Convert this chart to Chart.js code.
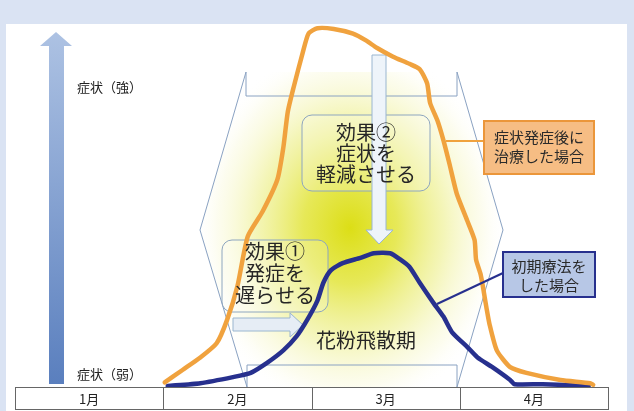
<!DOCTYPE html>
<html lang="ja">
<head>
<meta charset="utf-8">
<script src="https://cdn.jsdelivr.net/npm/chart.js@4"></script>
<style>
  html, body { margin: 0; padding: 0; background: #dae3f3; }
  #wrap { width: 634px; height: 411px; }
</style>
</head>
<body>
<div id="wrap"><canvas id="c" width="634" height="411"></canvas></div>
<script>
'use strict';

// ── Data ─────────────────────────────────────────────
const MONTHS = ['1月', '2月', '3月', '4月'];

// 症状発症後に治療した場合 (x: months from Jan 1, y: symptom level)
const LATE_X = [1.01, 1.13, 1.25, 1.36, 1.43, 1.50, 1.57, 1.67, 1.77, 1.81, 1.84, 1.88, 1.94, 1.98, 2.04, 2.15, 2.28,
                2.37, 2.44, 2.55, 2.66, 2.73, 2.78, 2.80, 2.85, 2.89, 2.93, 2.98, 3.05, 3.10, 3.11, 3.14, 3.16, 3.18,
                3.20, 3.25, 3.34, 3.45, 3.68, 3.88, 3.90];
const LATE_Y = [1, 4.5, 8, 12, 18.5, 28, 42, 49, 58, 67, 77, 84, 93.5, 99, 100.5, 100.3, 99,
                97, 95, 92.5, 90.5, 89, 85, 79.5, 74.5, 69, 62.5, 54, 46.5, 41, 35.5, 31.5, 27, 22,
                17.5, 10, 5.3, 3.7, 1.7, 0.8, 0.3];

// 初期療法をした場合
const EARLY_X = [1.03, 1.25, 1.47, 1.59, 1.70, 1.81, 1.90, 1.97, 2.04, 2.08, 2.13, 2.21, 2.33, 2.42, 2.53, 2.60,
                 2.66, 2.73, 2.82, 2.89, 2.95, 3.05, 3.12, 3.22, 3.34, 3.37, 3.56, 3.87];
const EARLY_Y = [0, 0.8, 2.5, 3.7, 6.5, 10, 14, 18.5, 24, 29, 32.5, 34.5, 36, 37.3, 37.3, 35.5,
                 33.5, 29, 23.5, 19.5, 15, 11, 8, 5.3, 1.7, 0.5, 0.5, 0];

const LATE_LABEL  = ['症状発症後に', '治療した場合'];
const EARLY_LABEL = ['初期療法を', 'した場合'];
const EFFECT1 = ['効果①', '発症を', '遅らせる'];
const EFFECT2 = ['効果②', '症状を', '軽減させる'];
const SEASON  = '花粉飛散期';
const AXIS_TOP = '症状（強）';
const AXIS_BOTTOM = '症状（弱）';

const FONT = "'Noto Sans CJK JP', 'Noto Sans', sans-serif";
const ORANGE = '#f0a23e';
const NAVY = '#27308e';

const toPoints = (xs, ys) => xs.map((x, i) => ({ x, y: ys[i] }));

// ── Drawing helpers ──────────────────────────────────
const poly = (ctx, pts) => {
    ctx.beginPath();
    ctx.moveTo(pts[0][0], pts[0][1]);
    pts.slice(1).forEach(p => ctx.lineTo(p[0], p[1]));
};

const lines = (ctx, arr, cx, y0, step) => {
    arr.forEach((t, i) => ctx.fillText(t, cx, y0 + i * step));
};

// hexagon marking the pollen season
const HEX = [[246, 72], [200, 230], [247, 387], [247, 365], [457, 365], [457, 387],
             [503, 230], [457, 72], [457, 96], [246, 96]];

const diagram = {
    id: 'diagram',
    beforeDraw(chart) {
        const ctx = chart.ctx;
        ctx.save();
        ctx.fillStyle = '#dae3f3';
        ctx.fillRect(0, 0, 634, 411);
        ctx.fillStyle = '#ffffff';
        ctx.fillRect(6, 24, 621, 387);

        // yellow glow clipped to hexagon
        ctx.save();
        poly(ctx, [[246, 72], [200, 230], [247, 387], [457, 387], [503, 230], [457, 72]]);
        ctx.closePath();
        ctx.clip();
        ctx.translate(350, 228);
        ctx.scale(0.92, 1.1);
        const g = ctx.createRadialGradient(0, 0, 0, 0, 0, 170);
        g.addColorStop(0, 'rgba(220,222,22,1)');
        g.addColorStop(0.3, 'rgba(228,230,70,0.9)');
        g.addColorStop(0.6, 'rgba(238,240,145,0.65)');
        g.addColorStop(0.85, 'rgba(248,248,210,0.35)');
        g.addColorStop(1, 'rgba(255,255,255,0)');
        ctx.fillStyle = g;
        ctx.fillRect(-260, -260, 520, 520);
        ctx.restore();

        // hexagon outline
        ctx.strokeStyle = '#8aa2c2';
        ctx.lineWidth = 1;
        poly(ctx, HEX);
        ctx.closePath();
        ctx.stroke();

        // left gradient arrow
        const ag = ctx.createLinearGradient(0, 32, 0, 384);
        ag.addColorStop(0, '#adc2e3');
        ag.addColorStop(1, '#5a7fbe');
        ctx.fillStyle = ag;
        poly(ctx, [[56, 32], [72, 46], [64, 46], [64, 384], [49, 384], [49, 46], [40, 46]]);
        ctx.closePath();
        ctx.fill();

        ctx.fillStyle = '#222';
        ctx.font = '13px ' + FONT;
        ctx.textAlign = 'left';
        ctx.textBaseline = 'middle';
        ctx.fillText(AXIS_TOP, 77, 87);
        ctx.fillText(AXIS_BOTTOM, 77, 374);

        // effect boxes
        ctx.strokeStyle = '#8ea6bf';
        ctx.fillStyle = 'rgba(255,255,255,0.22)';
        ctx.beginPath();
        ctx.roundRect(302, 115, 128, 76, 10);
        ctx.fill();
        ctx.stroke();
        ctx.beginPath();
        ctx.roundRect(222, 240, 106, 72, 10);
        ctx.fill();
        ctx.stroke();

        // down arrow
        ctx.fillStyle = '#eef4fa';
        ctx.strokeStyle = '#9ab6d0';
        poly(ctx, [[372, 55], [386, 55], [386, 230], [393, 230], [379, 244], [366, 230], [372, 230]]);
        ctx.closePath();
        ctx.fill();
        ctx.stroke();

        // right arrow
        ctx.fillStyle = '#e6edf5';
        poly(ctx, [[233, 318], [290, 318], [290, 313], [303, 325], [290, 337], [290, 331], [233, 331]]);
        ctx.closePath();
        ctx.fill();
        ctx.stroke();
        ctx.restore();
    },
    afterDatasetsDraw(chart) {
        const ctx = chart.ctx;
        const xs = chart.scales.x;
        ctx.save();
        ctx.fillStyle = '#262626';
        ctx.textAlign = 'center';
        ctx.textBaseline = 'middle';
        ctx.font = '20px ' + FONT;
        lines(ctx, EFFECT2, 366, 132, 21);
        lines(ctx, EFFECT1, 275, 251, 22);
        ctx.fillText(SEASON, 366, 340);

        // orange callout
        ctx.strokeStyle = ORANGE;
        ctx.lineWidth = 2;
        ctx.beginPath();
        ctx.moveTo(446, 141);
        ctx.lineTo(484, 141);
        ctx.stroke();
        ctx.fillStyle = '#f6bd84';
        ctx.fillRect(484, 121, 110, 53);
        ctx.strokeStyle = '#eb963a';
        ctx.strokeRect(484, 121, 110, 53);
        ctx.fillStyle = '#2a2a2a';
        ctx.font = '15px ' + FONT;
        lines(ctx, LATE_LABEL, 539, 137, 19);

        // navy callout
        ctx.strokeStyle = NAVY;
        ctx.lineWidth = 2;
        ctx.beginPath();
        ctx.moveTo(437, 304);
        ctx.lineTo(503, 273);
        ctx.stroke();
        ctx.fillStyle = '#b7c7e6';
        ctx.fillRect(503, 252, 92, 45);
        ctx.strokeRect(503, 252, 92, 45);
        ctx.fillStyle = '#2a2a2a';
        lines(ctx, EARLY_LABEL, 549, 266, 19);

        // month row
        const top = 387, bot = 409;
        ctx.fillStyle = '#ffffff';
        ctx.fillRect(xs.getPixelForValue(0), top, xs.getPixelForValue(MONTHS.length) - xs.getPixelForValue(0), bot - top);
        ctx.strokeStyle = '#666';
        ctx.lineWidth = 1;
        ctx.strokeRect(Math.round(xs.getPixelForValue(0)) + 0.5, top + 0.5,
            Math.round(xs.getPixelForValue(MONTHS.length) - xs.getPixelForValue(0)), bot - top);
        ctx.fillStyle = '#222';
        ctx.font = '13px ' + FONT;
        MONTHS.forEach((m, i) => {
            if (i > 0) {
                const px = Math.round(xs.getPixelForValue(i)) + 0.5;
                ctx.beginPath();
                ctx.moveTo(px, top);
                ctx.lineTo(px, bot);
                ctx.stroke();
            }
            ctx.fillText(m, xs.getPixelForValue(i + 0.5), (top + bot) / 2 + 1);
        });
        ctx.restore();
    }
};

new Chart(document.getElementById('c'), {
    type: 'line',
    data: {
        datasets: [
            {
                label: LATE_LABEL.join(''),
                data: toPoints(LATE_X, LATE_Y),
                borderColor: ORANGE,
                borderWidth: 4.5,
                pointRadius: 0,
                tension: 0.2,
                borderCapStyle: 'round',
                borderJoinStyle: 'round',
                clip: false
            },
            {
                label: EARLY_LABEL.join(''),
                data: toPoints(EARLY_X, EARLY_Y),
                borderColor: NAVY,
                borderWidth: 4.5,
                pointRadius: 0,
                tension: 0.2,
                borderCapStyle: 'round',
                borderJoinStyle: 'round',
                clip: false
            }
        ]
    },
    options: {
        responsive: false,
        animation: false,
        layout: { padding: { left: 15, right: 26, top: 30, bottom: 25 } },
        plugins: { legend: { display: false }, tooltip: { enabled: false } },
        scales: {
            x: { type: 'linear', min: 0, max: MONTHS.length, display: false },
            y: { min: 0, max: 100, display: false }
        }
    },
    plugins: [diagram]
});
</script>
</body>
</html>
